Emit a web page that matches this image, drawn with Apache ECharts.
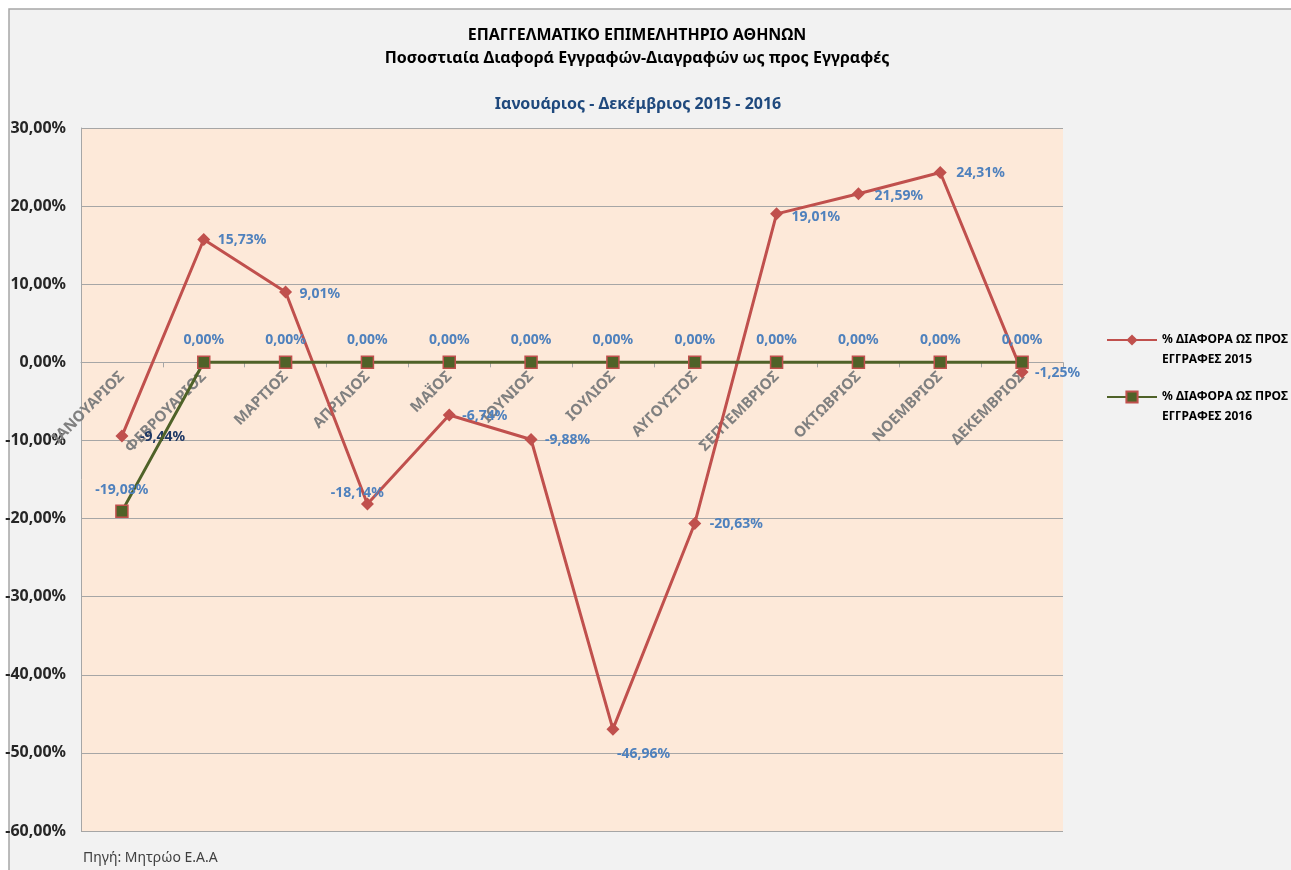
<!DOCTYPE html>
<html>
<head>
<meta charset="utf-8">
<script src="https://cdn.jsdelivr.net/npm/echarts@6/dist/echarts.min.js"></script>
<style>html,body{margin:0;padding:0;background:#fff;}#c{width:1291px;height:870px;}</style>
</head>
<body>
<div id="c"></div>
<script>
const categories = ['ΙΑΝΟΥΑΡΙΟΣ','ΦΕΒΡΟΥΑΡΙΟΣ','ΜΑΡΤΙΟΣ','ΑΠΡΙΛΙΟΣ','ΜΑΪΟΣ','ΙΟΥΝΙΟΣ','ΙΟΥΛΙΟΣ','ΑΥΓΟΥΣΤΟΣ','ΣΕΠΤΕΜΒΡΙΟΣ','ΟΚΤΩΒΡΙΟΣ','ΝΟΕΜΒΡΙΟΣ','ΔΕΚΕΜΒΡΙΟΣ'];
const values2015 = [-9.44, 15.73, 9.01, -18.14, -6.74, -9.88, -46.96, -20.63, 19.01, 21.59, 24.31, -1.25];
const values2016 = [-19.08, 0, 0, 0, 0, 0, 0, 0, 0, 0, 0, 0];
const name2015 = '% ΔΙΑΦΟΡΑ ΩΣ ΠΡΟΣ ΕΓΓΡΑΦΕΣ 2015';
const name2016 = '% ΔΙΑΦΟΡΑ ΩΣ ΠΡΟΣ ΕΓΓΡΑΦΕΣ 2016';
const yMin = -60, yMax = 30, yStep = 10;

const FONT = 'Noto Sans';
const fmtPct = v => v.toFixed(2).replace('.', ',') + '%';

// label placement (offset from point centre)
const lab2015 = [[18,1,'left'],[14,1,'left'],[14,2,'left'],[-10,-11,'center'],[13,1,'left'],[14,1,'left'],[4,25,'left'],[15,1,'left'],[15,3,'left'],[16,2,'left'],[16,1,'left'],[13,1,'left']];
const d2015 = values2015.map((v,i) => ({
  value: v,
  label: { offset: [lab2015[i][0], lab2015[i][1]], align: lab2015[i][2], color: i === 0 ? '#1f3864' : '#4f81bd' }
}));
const d2016 = values2016.map((v,i) => ({
  value: v,
  label: { offset: [0, i === 0 ? -21 : -22], align: 'center' }
}));

const chart = echarts.init(document.getElementById('c'));
chart.setOption({
  animation: false,
  backgroundColor: '#ffffff',
  graphic: [
    { type: 'rect', z: -100, shape: { x: 9, y: 9, width: 1320, height: 900 }, style: { fill: '#f2f2f2', stroke: '#a6a6a6', lineWidth: 1.5 } },
    { type: 'text', x: 637, y: 35, style: { text: 'ΕΠΑΓΓΕΛΜΑΤΙΚΟ ΕΠΙΜΕΛΗΤΗΡΙΟ ΑΘΗΝΩΝ', fontFamily: FONT, fontWeight: 'bold', fontSize: 16, fill: '#000', textAlign: 'center', textVerticalAlign: 'middle' } },
    { type: 'text', x: 637, y: 58, style: { text: 'Ποσοστιαία Διαφορά Εγγραφών-Διαγραφών ως προς Εγγραφές', fontFamily: FONT, fontWeight: 'bold', fontSize: 16, fill: '#000', textAlign: 'center', textVerticalAlign: 'middle' } },
    { type: 'text', x: 638, y: 104, style: { text: 'Ιανουάριος - Δεκέμβριος 2015 - 2016', fontFamily: FONT, fontWeight: 'bold', fontSize: 16, fill: '#1f497d', textAlign: 'center', textVerticalAlign: 'middle' } },
    { type: 'text', x: 83, y: 858, style: { text: 'Πηγή: Μητρώο Ε.Α.Α', fontFamily: FONT, fontSize: 14, fill: '#404040', textAlign: 'left', textVerticalAlign: 'middle' } }
  ],
  grid: { left: 81, right: 228, top: 128, bottom: 39, show: true, backgroundColor: '#fde9d9', borderWidth: 0, containLabel: false, outerBoundsMode: 'none' },
  legend: {
    orient: 'vertical', left: 1106, top: 314, padding: 0, itemGap: 5, itemWidth: 50, itemHeight: 14,
    data: [name2015, name2016],
    formatter: n => { const k = n.indexOf('ΕΓΓΡΑΦΕΣ'); return '{e| }\n{a|' + n.slice(0, k).trim() + '}\n{a|' + n.slice(k) + '}'; },
    textStyle: { fontFamily: FONT, fontWeight: 'bold', fontSize: 12, color: '#000',
      rich: { e: { lineHeight: 20, fontSize: 12 }, a: { lineHeight: 20, fontSize: 12, fontWeight: 'bold', fontFamily: FONT, color: '#000' } } }
  },
  xAxis: {
    type: 'category', data: categories, boundaryGap: true, position: 'bottom',
    axisLine: { onZero: false, lineStyle: { color: '#a6a6a6', width: 1 } },
    axisTick: { show: true, length: 5, lineStyle: { color: '#a6a6a6' } },
    axisLabel: { rotate: 45, interval: 0, margin: 12, color: '#808080', fontFamily: FONT, fontWeight: 'bold', fontSize: 15 },
    splitLine: { show: false }
  },
  yAxis: {
    type: 'value', min: yMin, max: yMax, interval: yStep,
    axisLine: { show: true, lineStyle: { color: '#a6a6a6' } },
    axisTick: { show: false },
    axisLabel: { formatter: v => fmtPct(v), margin: 15, color: '#262626', fontFamily: FONT, fontWeight: 'bold', fontSize: 16 },
    splitLine: { lineStyle: { color: '#a6a6a6', width: 1 } }
  },
  series: [
    {
      name: name2015, type: 'line', data: d2015, z: 3,
      symbol: 'diamond', symbolSize: 13,
      lineStyle: { color: '#c0504d', width: 3 },
      itemStyle: { color: '#c0504d' },
      label: { show: true, position: 'inside', formatter: p => fmtPct(p.value), fontFamily: FONT, fontWeight: 'bold', fontSize: 14, color: '#4f81bd' }
    },
    {
      name: name2016, type: 'line', data: d2016, z: 4,
      symbol: 'rect', symbolSize: 12,
      lineStyle: { color: '#4f6228', width: 3 },
      itemStyle: { color: '#4f6228', borderColor: '#c0504d', borderWidth: 1.5 },
      label: { show: true, position: 'inside', formatter: p => fmtPct(p.value), fontFamily: FONT, fontWeight: 'bold', fontSize: 14, color: '#4f81bd' }
    }
  ]
});
// move the category axis (line, ticks, labels) to the value 0 using the library's own scale
const zeroY = chart.convertToPixel({ yAxisIndex: 0 }, 0);
const bottomY = chart.convertToPixel({ yAxisIndex: 0 }, yMin);
chart.setOption({ xAxis: { offset: zeroY - bottomY } });
</script>
</body>
</html>
